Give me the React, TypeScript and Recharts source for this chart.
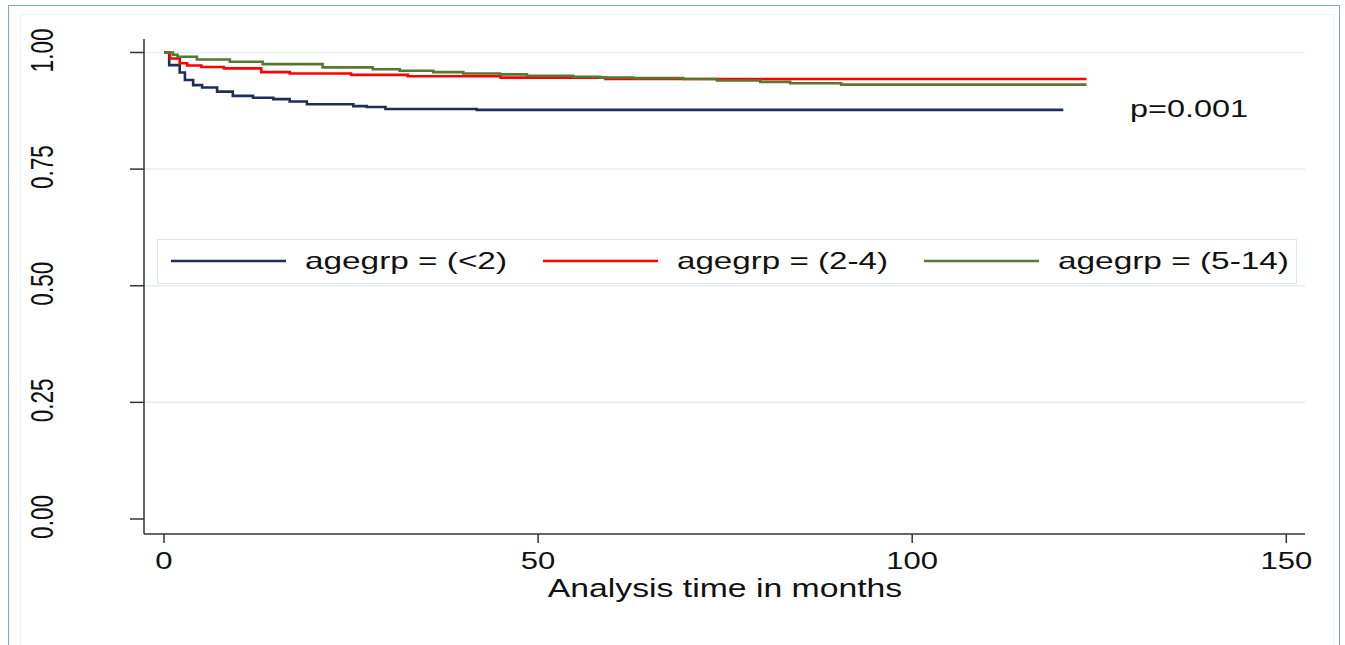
import { LineChart, Line, XAxis, YAxis, ReferenceLine, Legend, Customized } from "recharts";

// Kaplan-Meier estimates (time in months, survival)
const lt2Time = [0, 0.7, 2.1, 2.8, 3.9, 5.1, 7.1, 9.2, 11.9, 14.6, 16.8, 19.1, 25.3, 27.1, 29.6, 41.8, 120.2];
const lt2Surv = [1, 0.973, 0.957, 0.941, 0.93, 0.925, 0.916, 0.907, 0.903, 0.9, 0.895, 0.889, 0.885, 0.883, 0.879, 0.877, 0.877];

const age24Time = [0, 0.8, 2.1, 3.1, 5, 8, 13, 16.8, 25, 32.6, 45, 59, 123.3];
const age24Surv = [1, 0.987, 0.977, 0.972, 0.969, 0.966, 0.958, 0.955, 0.952, 0.949, 0.946, 0.943, 0.943];

const age514Time = [0, 1.2, 1.8, 4.4, 8.8, 13.2, 21.2, 27.9, 31.5, 36, 40, 44.9, 48.5, 54.7, 58.3, 62.7, 69.4, 73.9, 79.7, 83.7, 90.5, 123.3];
const age514Surv = [1, 0.995, 0.991, 0.985, 0.98, 0.975, 0.968, 0.964, 0.961, 0.958, 0.955, 0.953, 0.95, 0.948, 0.946, 0.945, 0.943, 0.94, 0.937, 0.934, 0.931, 0.931];

const groupLabels = ["agegrp = (<2)", "agegrp = (2-4)", "agegrp = (5-14)"];
const groupColors = ["#1f2d58", "#ff0000", "#58772f"];

const xTicks = [0, 50, 100, 150];
const yTicks = [0, 0.25, 0.5, 0.75, 1];
const gridValues = [0.25, 0.5, 0.75, 1];
const pValueText = "p=0.001";
const xTitle = "Analysis time in months";

const zip = (t: number[], s: number[]) => t.map((v, i) => ({ t: v, s: s[i] }));
const series = [
  { name: groupLabels[0], color: groupColors[0], data: zip(lt2Time, lt2Surv) },
  { name: groupLabels[1], color: groupColors[1], data: zip(age24Time, age24Surv) },
  { name: groupLabels[2], color: groupColors[2], data: zip(age514Time, age514Surv) },
];

const FONT = '"Liberation Sans", Arial, sans-serif';
const SX = 1.35; // the source image is stretched horizontally
const legendTextWidths = [202, 211, 231];

const YTick = (props: any) => {
  const { y, payload } = props;
  return (
    <text transform={`translate(53,${y - 2}) scale(1.42,1) rotate(-90)`} textAnchor="middle" fontSize={22.5} fill="#111" fontFamily={FONT}>
      {payload.value.toFixed(2)}
    </text>
  );
};

const XTick = (props: any) => {
  const { x, payload } = props;
  return (
    <text transform={`translate(${x},569) scale(${SX},1)`} textAnchor="middle" fontSize={23} fill="#111" fontFamily={FONT}>
      {payload.value}
    </text>
  );
};

const LegendBox = () => {
  let cursor = 14;
  return (
    <svg width={1140} height={45} style={{ display: "block" }}>
      <rect x={0.5} y={0.5} width={1139} height={44} fill="#fff" stroke="#dde6ea" />
      {series.map((s, i) => {
        const x0 = cursor;
        cursor += 134 + legendTextWidths[i] + 36;
        return (
          <g key={s.name}>
            <line x1={x0} x2={x0 + 115} y1={22} y2={22} stroke={s.color} strokeWidth={2.4} />
            <text x={x0 + 134} y={30} fontSize={24} fontFamily={FONT} fill="#111" textLength={legendTextWidths[i]} lengthAdjust="spacingAndGlyphs">
              {s.name}
            </text>
          </g>
        );
      })}
    </svg>
  );
};

export default function App() {
  return (
    <div style={{ position: "absolute", left: 0, top: 0, width: 1345, height: 645, background: "#fff", overflow: "hidden" }}>
      <div style={{ position: "absolute", left: 8, top: 5, width: 1330, height: 700, border: "1px solid #7ea3d6" }} />
      <div style={{ position: "absolute", left: 20, top: 14, width: 1312, height: 700, border: "1px solid #edf2f4" }} />
      <div style={{ position: "absolute", left: 0, top: 0 }}>
        <LineChart width={1345} height={645} margin={{ top: 39, right: 40, bottom: 0, left: 0 }}>
          <XAxis
            type="number"
            dataKey="t"
            domain={[-2.67, 152.5]}
            ticks={xTicks}
            allowDataOverflow
            height={111}
            tickSize={9}
            tick={<XTick />}
            axisLine={{ stroke: "#333", strokeWidth: 1.5 }}
            tickLine={{ stroke: "#333", strokeWidth: 1.5 }}
            label={{
              content: () => (
                <text transform={`translate(725,597) scale(${SX},1)`} textAnchor="middle" fontSize={25} fill="#111" fontFamily={FONT}>
                  {xTitle}
                </text>
              ),
            }}
          />
          <YAxis
            type="number"
            domain={[-0.0322, 1.0289]}
            ticks={yTicks}
            allowDataOverflow
            width={144}
            tickSize={14}
            tick={<YTick />}
            axisLine={{ stroke: "#333", strokeWidth: 1.5 }}
            tickLine={{ stroke: "#333", strokeWidth: 1.5 }}
          />
          {gridValues.map((v) => (
            <ReferenceLine key={v} y={v} stroke="#e6eef1" strokeWidth={1.5} />
          ))}
          {series.map((s) => (
            <Line
              key={s.name}
              data={s.data}
              dataKey="s"
              name={s.name}
              type="stepAfter"
              stroke={s.color}
              strokeWidth={2.6}
              dot={false}
              activeDot={false}
              isAnimationActive={false}
            />
          ))}
          <Legend
            layout="horizontal"
            verticalAlign="middle"
            align="center"
            wrapperStyle={{ position: "absolute", left: 157, top: 239, width: 1140, height: 45 }}
            content={() => <LegendBox />}
          />
          <Customized
            component={() => (
              <text transform={`translate(1130,117) scale(${SX},1)`} fontSize={24} fill="#111" fontFamily={FONT}>
                {pValueText}
              </text>
            )}
          />
        </LineChart>
      </div>
    </div>
  );
}
